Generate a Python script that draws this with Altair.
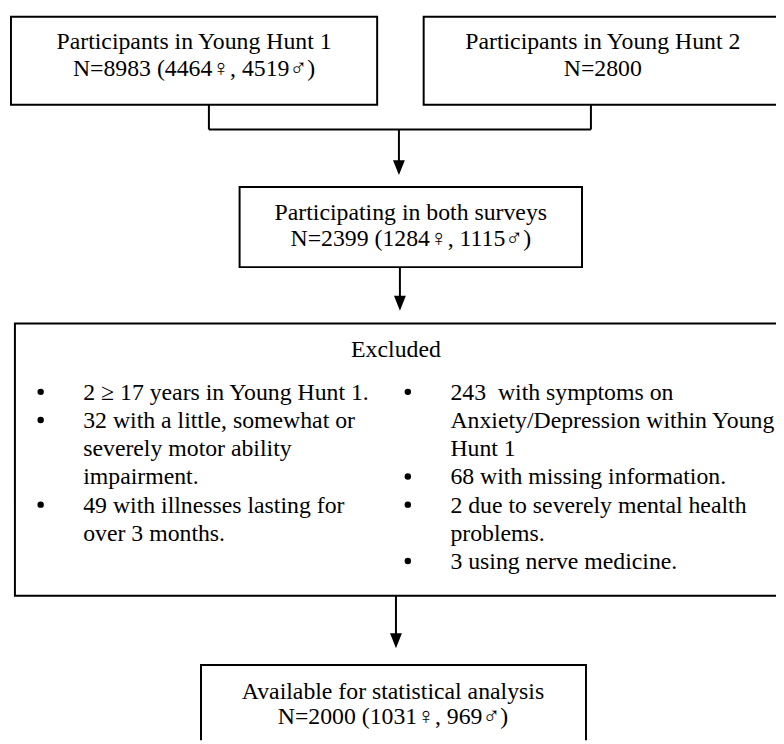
import altair as alt
import pandas as pd

# ---- content ----
box1_lines = ["Participants in Young Hunt 1", "N=8983 (4464\u2640, 4519\u2642)"]
box2_lines = ["Participants in Young Hunt 2", "N=2800"]
box3_lines = ["Participating in both surveys", "N=2399 (1284\u2640, 1115\u2642)"]
excluded_title = ["Excluded"]
excluded_left = [
    "2 \u2265 17 years in Young Hunt 1.",
    "32 with a little, somewhat or",
    "severely motor ability",
    "impairment.",
    "49 with illnesses lasting for",
    "over 3 months.",
]
left_bullet_rows = [0, 1, 4]
excluded_right = [
    "243\u00a0 with symptoms on",
    "Anxiety/Depression within Young",
    "Hunt 1",
    "\u00a068 with missing information.",
    "2 due to severely mental health",
    "problems.",
    "3 using nerve medicine.",
]
right_bullet_rows = [0, 3, 4, 6]
final_lines = ["Available for statistical analysis", "N=2000 (1031\u2640, 969\u2642)"]

# ---- layout (page pixel coordinates) ----
FONT = "'Liberation Serif', 'Times New Roman', Times, serif"
FS = 24
boxes = pd.DataFrame([
    dict(x1=11, x2=381, y1=13, y2=102),
    dict(x1=428, x2=792, y1=13, y2=102),
    dict(x1=242, x2=588, y1=185, y2=266),
    dict(x1=15, x2=788, y1=323, y2=598),
    dict(x1=203, x2=592, y1=668, y2=770),
])
segments = pd.DataFrame([
    dict(x1=211, y1=102, x2=211, y2=127),
    dict(x1=597, y1=102, x2=597, y2=127),
    dict(x1=211, y1=127, x2=597, y2=127),
    dict(x1=403, y1=127, x2=403, y2=162),
    dict(x1=404, y1=266, x2=404, y2=299),
    dict(x1=400, y1=598, x2=400, y2=640),
])
arrows = pd.DataFrame([
    dict(x=403, y=173 - 7.5),
    dict(x=404, y=310 - 7.5),
    dict(x=400, y=651 - 7.5),
])

center_rows = []
for lines, cx, ys in [
    (box1_lines, 196, [46, 73]),
    (box2_lines, 609, [46, 73]),
    (box3_lines, 415, [218, 245]),
    (excluded_title, 400, [357]),
    (final_lines, 397, [702, 728]),
]:
    for t, yy in zip(lines, ys):
        center_rows.append(dict(x=cx, y=yy, t=t))
center_df = pd.DataFrame(center_rows)

row_y = [400, 428.5, 457, 485.5, 514, 542.5, 571]
left_rows = [dict(x=84, y=row_y[i], t=t) for i, t in enumerate(excluded_left)]
left_rows += [dict(x=455, y=row_y[i], t=t) for i, t in enumerate(excluded_right)]
left_df = pd.DataFrame(left_rows)
bullet_df = pd.DataFrame(
    [dict(x=41, y=row_y[i] - 8) for i in left_bullet_rows]
    + [dict(x=412, y=row_y[i] - 8) for i in right_bullet_rows]
)

X = alt.Scale(domain=[8, 784], nice=False, zero=False)
Y = alt.Scale(domain=[744, 8], nice=False, zero=False)

rects = alt.Chart(boxes).mark_rect(
    fill="white", stroke="black", strokeWidth=2, clip=True
).encode(
    x=alt.X("x1:Q", scale=X, axis=None), x2="x2:Q",
    y=alt.Y("y1:Q", scale=Y, axis=None), y2="y2:Q",
)
rules = alt.Chart(segments).mark_rule(color="black", strokeWidth=2, clip=True).encode(
    x=alt.X("x1:Q", scale=X, axis=None), x2="x2:Q",
    y=alt.Y("y1:Q", scale=Y, axis=None), y2="y2:Q",
)
heads = alt.Chart(arrows).mark_point(
    shape="M-0.8,-1L0.8,-1L0,1Z", size=225, filled=True, color="black",
    opacity=1, strokeWidth=0, clip=True,
).encode(
    x=alt.X("x:Q", scale=X, axis=None), y=alt.Y("y:Q", scale=Y, axis=None)
)
bullets = alt.Chart(bullet_df).mark_point(
    shape="circle", size=42, filled=True, color="black", opacity=1, strokeWidth=0, clip=True
).encode(
    x=alt.X("x:Q", scale=X, axis=None), y=alt.Y("y:Q", scale=Y, axis=None)
)
ctext = alt.Chart(center_df).mark_text(
    font=FONT, fontSize=FS, align="center", baseline="alphabetic", color="black", clip=True
).encode(x=alt.X("x:Q", scale=X, axis=None), y=alt.Y("y:Q", scale=Y, axis=None), text="t:N")
ltext = alt.Chart(left_df).mark_text(
    font=FONT, fontSize=FS, align="left", baseline="alphabetic", color="black", clip=True
).encode(x=alt.X("x:Q", scale=X, axis=None), y=alt.Y("y:Q", scale=Y, axis=None), text="t:N")

chart = alt.layer(rects, rules, heads, bullets, ctext, ltext).properties(
    width=776, height=736, padding=0, autosize=alt.AutoSizeParams(type="none"),
).configure_view(stroke=None)

chart.save("out.html", embed_options={"renderer": "svg", "actions": False})
